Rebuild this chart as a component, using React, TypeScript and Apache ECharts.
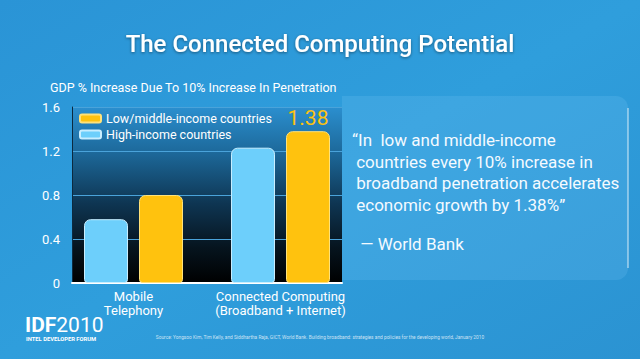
import React, { useEffect, useRef } from "react";
import * as echarts from "echarts";

const categories = ["Mobile\nTelephony", "Connected Computing\n(Broadband + Internet)"];
const highIncome = [0.58, 1.23];
const lowMiddle = [0.8, 1.38];
const seriesNames = ["High-income countries", "Low/middle-income countries"];
const yMin = 0;
const yMax = 1.6;
const yInterval = 0.4;
const titleText = "The Connected Computing Potential";
const subtitleText = "GDP % Increase Due To 10% Increase In Penetration";
const quoteLines = [
  "\u201CIn  low and middle-income",
  " countries every 10% increase in",
  " broadband penetration accelerates",
  " economic growth by 1.38%\u201D",
];
const quoteSource = " \u2014 World Bank";
const sourceText =
  "Source: Yongsoo Kim, Tim Kelly, and Siddhartha Raja, GICT, World Bank. Building broadband: strategies and policies for the developing world, January 2010";

const FONT = "Roboto, 'Noto Sans', sans-serif";
const BLUE = "#6dcffb";
const YELLOW = "#ffc20e";

export default function App() {
  const ref = useRef<HTMLDivElement>(null);
  useEffect(() => {
    if (!ref.current) return;
    const chart = echarts.init(ref.current, undefined, { renderer: "svg" });
    const quoteY = [140, 161.5, 183, 204.5];
    const option: any = {
      animation: false,
      backgroundColor: {
        type: "linear",
        x: 0,
        y: 0,
        x2: 1,
        y2: 1,
        colorStops: [
          { offset: 0, color: "#2a94d6" },
          { offset: 0.5, color: "#2f9edc" },
          { offset: 1, color: "#2b93d2" },
        ],
      },
      textStyle: { fontFamily: FONT },
      legend: {
        orient: "vertical",
        left: 74,
        top: 107,
        itemWidth: 21,
        itemHeight: 8,
        itemGap: 3,
        icon: "roundRect",
        data: [seriesNames[1], seriesNames[0]],
        textStyle: { color: "#ffffff", fontSize: 12.5, fontFamily: FONT },
      },
      grid: [
        {
          left: 72,
          right: 298,
          top: 107,
          bottom: 76,
          show: true,
          borderWidth: 0,
          backgroundColor: {
            type: "linear",
            x: 0,
            y: 0,
            x2: 0,
            y2: 1,
            colorStops: [
              { offset: 0, color: "#2b8fcf" },
              { offset: 0.25, color: "#1d6a9c" },
              { offset: 0.55, color: "#0e3552" },
              { offset: 0.8, color: "#06141e" },
              { offset: 1, color: "#000000" },
            ],
          },
        },
        { left: 60, right: 286, top: 107, bottom: 76 },
      ],
      xAxis: [
        {
          type: "category",
          gridIndex: 0,
          data: categories,
          axisLine: { show: true, lineStyle: { color: "#ffffff", width: 2 } },
          axisTick: { show: false },
          axisLabel: { show: false },
        },
        {
          type: "category",
          gridIndex: 1,
          data: categories,
          axisLine: { show: false },
          axisTick: { show: false },
          axisLabel: {
            interval: 0,
            color: "#ffffff",
            fontSize: 13,
            lineHeight: 14,
            margin: 6,
            fontFamily: FONT,
          },
        },
      ],
      yAxis: [
        {
          type: "value",
          gridIndex: 0,
          min: yMin,
          max: yMax,
          interval: yInterval,
          axisLine: { show: true, lineStyle: { color: "#0b2a40", width: 1 } },
          axisTick: { show: false },
          splitLine: { show: true, lineStyle: { color: "#4aa3da", width: 1 } },
          axisLabel: { color: "#ffffff", fontSize: 13, margin: 12, fontFamily: FONT },
        },
        {
          type: "value",
          gridIndex: 1,
          min: yMin,
          max: yMax,
          interval: yInterval,
          show: false,
          splitLine: { show: false },
        },
      ],
      series: [
        {
          name: seriesNames[0],
          type: "bar",
          xAxisIndex: 1,
          yAxisIndex: 1,
          data: highIncome,
          barWidth: 44,
          barGap: "25%",
          itemStyle: {
            color: BLUE,
            borderColor: "#c8eeff",
            borderWidth: 1,
            borderRadius: [6, 6, 3, 3],
          },
        },
        {
          name: seriesNames[1],
          type: "bar",
          xAxisIndex: 1,
          yAxisIndex: 1,
          data: lowMiddle.map((v, i) =>
            i === 1
              ? {
                  value: v,
                  label: {
                    show: true,
                    position: "top",
                    distance: 3,
                    color: YELLOW,
                    fontSize: 21,
                    fontFamily: FONT,
                  },
                }
              : v
          ),
          barWidth: 44,
          itemStyle: {
            color: YELLOW,
            borderColor: "#ffe27a",
            borderWidth: 1,
            borderRadius: [6, 6, 3, 3],
          },
        },
      ],
      graphic: [
        {
          type: "rect",
          z: -10,
          shape: { x: 342, y: 96, width: 286, height: 184, r: [0, 12, 12, 0] },
          style: {
            fill: "rgba(140,210,255,0.16)",
          },
        },
        {
          type: "line",
          shape: { x1: 628, y1: 108, x2: 628, y2: 268 },
          style: { stroke: "rgba(255,255,255,0.55)", lineWidth: 1.5 },
        },
        {
          type: "text",
          x: 320,
          y: 44,
          style: {
            text: titleText,
            fill: "#ffffff",
            font: `500 24px ${FONT}`,
            align: "center",
            verticalAlign: "middle",
            textShadowColor: "rgba(0,0,0,0.45)",
            textShadowBlur: 3,
            textShadowOffsetY: 1,
          },
        },
        {
          type: "text",
          x: 50,
          y: 87,
          style: {
            text: subtitleText,
            fill: "#ffffff",
            font: `12.5px ${FONT}`,
            align: "left",
            verticalAlign: "middle",
          },
        },
        ...quoteLines.map((t, i) => ({
          type: "text",
          x: 352,
          y: quoteY[i],
          style: {
            text: t,
            fill: "#f4faff",
            font: `17px ${FONT}`,
            align: "left",
            verticalAlign: "middle",
          },
        })),
        {
          type: "text",
          x: 356,
          y: 244,
          style: {
            text: quoteSource,
            fill: "#f4faff",
            font: `17px ${FONT}`,
            align: "left",
            verticalAlign: "middle",
          },
        },
        {
          type: "text",
          x: 25,
          y: 325,
          style: {
            text: "{b|IDF}{r|2010}",
            verticalAlign: "middle",
            rich: {
              b: { fill: "#ffffff", font: `bold 21px ${FONT}` },
              r: { fill: "#ffffff", font: `21px ${FONT}` },
            },
          },
        },
        {
          type: "text",
          x: 26,
          y: 339,
          style: {
            text: "INTEL DEVELOPER FORUM",
            fill: "#ffffff",
            font: `bold 5.8px ${FONT}`,
            verticalAlign: "middle",
          },
        },
        {
          type: "text",
          x: 320,
          y: 337,
          style: {
            text: sourceText,
            fill: "rgba(255,255,255,0.75)",
            font: `4.8px ${FONT}`,
            align: "center",
            verticalAlign: "middle",
          },
        },
      ],
    };
    chart.setOption(option);
    return () => chart.dispose();
  }, []);
  return (
    <div
      ref={ref}
      style={{ position: "fixed", left: 0, top: 0, width: 640, height: 359 }}
    />
  );
}
